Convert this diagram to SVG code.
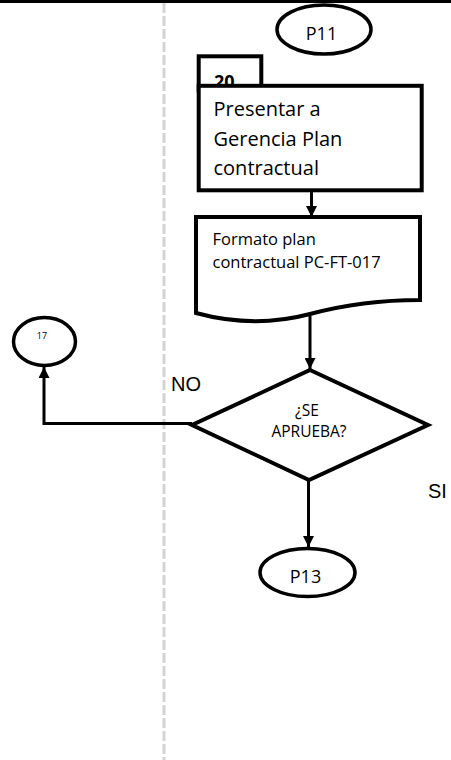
<svg xmlns="http://www.w3.org/2000/svg" width="451" height="760" viewBox="0 0 451 760">
  <style>
    .shape { fill: #ffffff; stroke: #000000; stroke-width: 4; }
    .oval { fill: #ffffff; stroke: #000000; stroke-width: 3.5; }
    .label { font-family: "Open Sans", "Liberation Sans", sans-serif; fill: #000000; }
    .branch { font-family: "Liberation Sans", Arial, sans-serif; font-size: 20px; fill: #000000; }
    .flow { fill: none; stroke: #000000; stroke-width: 3; }
  </style>
  <defs>
    <marker id="arrow" viewBox="0 0 10 10" refX="10" refY="5" markerWidth="11" markerHeight="11" markerUnits="userSpaceOnUse" orient="auto">
      <path d="M0,0 L10,5 L0,10 Z" fill="#000000"/>
    </marker>
  </defs>

  <rect width="451" height="760" fill="#ffffff"/>

  <!-- lane frame: top rule and dashed lane divider -->
  <rect x="0" y="0" width="451" height="3" fill="#000000"/>
  <line x1="164" y1="3" x2="164" y2="760" stroke="#d4d4d4" stroke-width="3" stroke-dasharray="10 3"/>

  <!-- connectors -->
  <g id="connectors">
    <line class="flow" x1="311.5" y1="192" x2="311.5" y2="217" marker-end="url(#arrow)"/>
    <line class="flow" x1="310" y1="316" x2="310" y2="369" marker-end="url(#arrow)"/>
    <polyline class="flow" points="192,423.5 44,423.5 44,367" marker-end="url(#arrow)"/>
    <line class="flow" x1="308.5" y1="480" x2="308.5" y2="547" marker-end="url(#arrow)"/>
  </g>

  <!-- start connector P11 -->
  <g id="p11">
    <ellipse class="oval" cx="324" cy="29.5" rx="47" ry="24.5"/>
    <text class="label" x="321.5" y="40" font-size="18" text-anchor="middle">P11</text>
  </g>

  <!-- activity 20 -->
  <g id="activity20">
    <rect class="shape" x="198.7" y="56.3" width="62.6" height="34"/>
    <text class="label" x="214" y="88" font-size="18" font-weight="bold">20</text>
    <rect class="shape" x="198.7" y="85.8" width="223" height="104.5"/>
    <text class="label" font-size="20">
      <tspan x="213.5" y="116">Presentar a</tspan>
      <tspan x="213.5" y="146">Gerencia Plan</tspan>
      <tspan x="213.5" y="175">contractual</tspan>
    </text>
  </g>

  <!-- document PC-FT-017 -->
  <g id="document">
    <path class="shape" d="M196,217 L420,217 L420,300 C380,300 340,306 310,314 C280,322 240,325 196,313 Z"/>
    <text class="label" font-size="16.5">
      <tspan x="212.5" y="245">Formato plan</tspan>
      <tspan x="212.5" y="268">contractual PC-FT-017</tspan>
    </text>
  </g>

  <!-- decision -->
  <g id="decision">
    <polygon class="shape" points="310,370 428,425 309,480 192,425"/>
    <text class="label" font-size="15.5" text-anchor="middle">
      <tspan x="309" y="416">¿SE</tspan>
      <tspan x="309" y="437">APRUEBA?</tspan>
    </text>
  </g>

  <!-- branch labels -->
  <text class="branch" x="171" y="391">NO</text>
  <text class="branch" x="428" y="498">SI</text>

  <!-- return connector 17 -->
  <g id="c17">
    <ellipse class="oval" cx="44.5" cy="341.5" rx="31" ry="24"/>
    <text class="label" x="42" y="339" font-size="9" text-anchor="middle">17</text>
  </g>

  <!-- end connector P13 -->
  <g id="p13">
    <ellipse class="oval" cx="307.5" cy="572.5" rx="47.5" ry="24"/>
    <text class="label" x="305.5" y="583" font-size="18" text-anchor="middle">P13</text>
  </g>
</svg>
